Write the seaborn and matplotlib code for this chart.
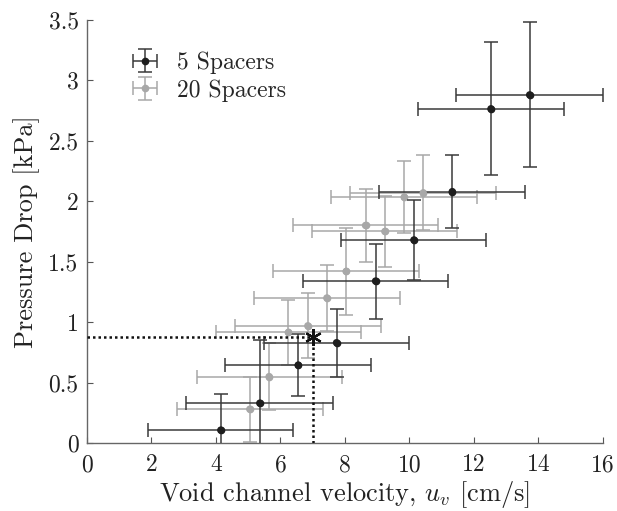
import matplotlib
matplotlib.use("Agg")
import matplotlib.pyplot as plt
import seaborn as sns
import numpy as np
import pandas as pd

# 5 spacers
x5 = [4.15, 5.36, 6.55, 7.74, 8.95, 10.14, 11.33, 12.53, 13.73]
y5 = [0.107, 0.33, 0.645, 0.83, 1.34, 1.68, 2.08, 2.765, 2.88]
xerr5 = [2.25, 2.28, 2.26, 2.25, 2.25, 2.25, 2.27, 2.26, 2.27]
yerr5 = [0.30, 0.52, 0.26, 0.28, 0.31, 0.33, 0.30, 0.55, 0.60]

# 20 spacers
x20 = [5.05, 5.65, 6.25, 6.85, 7.44, 8.04, 8.64, 9.24, 9.84, 10.43]
y20 = [0.28, 0.55, 0.915, 0.97, 1.20, 1.42, 1.80, 1.75, 2.035, 2.07]
xerr20 = [2.27, 2.25, 2.25, 2.26, 2.26, 2.26, 2.26, 2.25, 2.26, 2.26]
yerr20 = [0.27, 0.28, 0.27, 0.27, 0.27, 0.36, 0.30, 0.29, 0.30, 0.31]

# operating point
op_x = [7.0]
op_y = [0.88]

xticks = [0, 2, 4, 6, 8, 10, 12, 14, 16]
yticks = [0, 0.5, 1, 1.5, 2, 2.5, 3, 3.5]
ytick_labels = ["0", "0.5", "1", "1.5", "2", "2.5", "3", "3.5"]

sns.set_theme(style="ticks")
plt.rcParams["font.family"] = ["cmr10", "DejaVu Serif"]
plt.rcParams["mathtext.fontset"] = "cm"
plt.rcParams["axes.formatter.use_mathtext"] = True

fig = plt.figure(figsize=(6.17, 5.11), dpi=100)
ax = fig.add_axes([0.141, 0.133, 0.836, 0.828])

black = "#1e1e1e"
grey = "#a8a8a8"
ebk = dict(fmt="o", markersize=4.5, elinewidth=1.1, capsize=5.2, capthick=1.1)

df20 = pd.DataFrame({"x": x20, "y": y20})
df5 = pd.DataFrame({"x": x5, "y": y5})

ax.errorbar(x20, y20, xerr=xerr20, yerr=yerr20, color=grey, ecolor=grey,
            label="20 Spacers", zorder=2, **ebk)
ax.errorbar(x5, y5, xerr=xerr5, yerr=yerr5, color=black, ecolor="#3a3a3a",
            label="5 Spacers", zorder=3, **ebk)
sns.scatterplot(data=df20, x="x", y="y", color=grey, s=28, edgecolor="none",
                ax=ax, zorder=4, legend=False)
sns.scatterplot(data=df5, x="x", y="y", color=black, s=28, edgecolor="none",
                ax=ax, zorder=5, legend=False)

# dotted guide lines to operating point
ax.plot([0, op_x[0]], [op_y[0], op_y[0]], ls=(0, (1, 1.2)), color="#111111", lw=1.8, zorder=6)
ax.plot([op_x[0], op_x[0]], [0, op_y[0]], ls=(0, (1, 1.2)), color="#111111", lw=1.8, zorder=6)
ax.plot(op_x, op_y, marker=(6, 2, 0), markersize=12, color="#111111",
        markeredgewidth=1.6, ls="none", zorder=7)

ax.set_xlim(0, 16)
ax.set_ylim(0, 3.5)
ax.set_xticks(xticks)
ax.set_xticklabels([str(t) for t in xticks])
ax.set_yticks(yticks)
ax.set_yticklabels(ytick_labels)
ax.tick_params(direction="in", length=4, width=0.8, colors="#555555",
               labelcolor="#222222", labelsize=17)
ax.tick_params(axis="x", pad=8)
ax.tick_params(axis="y", pad=6)
for s in ["top", "right"]:
    ax.spines[s].set_visible(False)
for s in ["left", "bottom"]:
    ax.spines[s].set_color("#666666")
    ax.spines[s].set_linewidth(1.0)

ax.set_xlabel("Void channel velocity, $u_v$ [cm/s]", fontsize=19, color="#222222", labelpad=2)
ax.set_ylabel("Pressure Drop [kPa]", fontsize=19, color="#222222", labelpad=6)

handles, labels = ax.get_legend_handles_labels()
order = [labels.index("5 Spacers"), labels.index("20 Spacers")]
ax.legend([handles[i] for i in order], [labels[i] for i in order],
          loc="upper left", bbox_to_anchor=(0.069, 0.948), frameon=False,
          fontsize=17, handlelength=1.1, handletextpad=0.8, labelspacing=0.22,
          borderaxespad=0.0)

fig.savefig("out.png", dpi=100)
